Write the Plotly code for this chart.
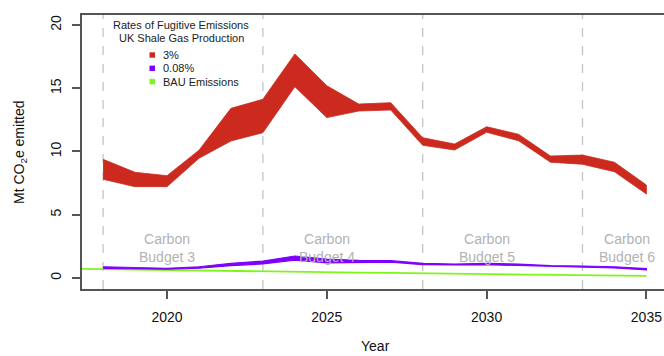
import plotly.graph_objects as go

# Projection years
years = list(range(2018, 2036))

# 3% fugitive emission rate: upper / lower envelope (Mt CO2e)
high_upper = [9.38, 8.35, 8.09, 10.1, 13.41, 14.13, 17.71, 15.2, 13.75, 13.86,
              11.09, 10.59, 11.96, 11.36, 9.64, 9.72, 9.15, 7.35]
high_lower = [7.80, 7.22, 7.22, 9.46, 10.83, 11.49, 15.12, 12.68, 13.2, 13.28,
              10.49, 10.12, 11.52, 10.85, 9.15, 8.99, 8.40, 6.64]

# 0.08% fugitive emission rate: upper / lower envelope (Mt CO2e)
low_upper = [0.89, 0.82, 0.77, 0.89, 1.16, 1.34, 1.74, 1.50, 1.40, 1.37,
             1.16, 1.10, 1.16, 1.10, 0.97, 0.95, 0.89, 0.74]
low_lower = [0.76, 0.70, 0.69, 0.77, 0.97, 1.11, 1.42, 1.20, 1.24, 1.26,
             1.05, 1.03, 1.05, 1.00, 0.89, 0.85, 0.79, 0.64]

# Business-as-usual emissions
bau_years = list(range(2017, 2036))
bau = [0.74, 0.70, 0.66, 0.62, 0.58, 0.54, 0.50, 0.48, 0.45, 0.42,
       0.40, 0.37, 0.33, 0.29, 0.27, 0.24, 0.21, 0.19, 0.16]

# Carbon budget periods
budget_starts = [2018, 2023, 2028, 2033]
budget_labels = ["Carbon<br>Budget 3", "Carbon<br>Budget 4",
                 "Carbon<br>Budget 5", "Carbon<br>Budget 6"]
budget_label_x = [2020, 2025, 2030, 2034.4]

y_ticks = [0, 5, 10, 15, 20]
x_ticks = [2020, 2025, 2030, 2035]

legend_title = ["Rates of Fugitive Emissions", "UK Shale Gas Production"]
legend_names = ["3%", "0.08%", "BAU Emissions"]

RED = "#CC2A1E"
PURPLE = "#7F00FF"
GREEN = "#80F51A"
FONT = "Liberation Sans, Arial, Helvetica, sans-serif"

W, H = 664, 356
L, R, T, B = 82, 0, 15, 67
PW, PH = W - L - R, H - T - B


def px_x(px):
    return (px - L) / PW


def px_y(py):
    return (T + PH - py) / PH


def band(xs, up, lo, color, width):
    return go.Scatter(
        x=xs + xs[::-1], y=up + lo[::-1], fill="toself", fillcolor=color,
        mode="lines", line=dict(color=color, width=width),
        hoverinfo="skip", showlegend=False)


fig = go.Figure()
fig.add_trace(go.Scatter(x=bau_years, y=bau, mode="lines",
                         line=dict(color=GREEN, width=1.8), showlegend=False))
fig.add_trace(band(years, low_upper, low_lower, PURPLE, 1.2))
fig.add_trace(band(years, high_upper, high_lower, RED, 0.8))

shapes = []
for yr in budget_starts:
    shapes.append(dict(type="line", xref="x", yref="paper", x0=yr, x1=yr,
                       y0=0, y1=1, layer="below",
                       line=dict(color="#C4C4C4", width=1.3, dash="dash")))

annotations = []
for lx, txt in zip(budget_label_x, budget_labels):
    annotations.append(dict(x=lx, y=2.4, xref="x", yref="y", text=txt,
                            showarrow=False, align="center",
                            font=dict(family=FONT, size=14, color="#B2B2B2")))

# Legend block
for i, line in enumerate(legend_title):
    annotations.append(dict(x=px_x(181), y=px_y(25 + 13.3 * i), xref="paper",
                            yref="paper", text=line, showarrow=False,
                            xanchor="center", yanchor="middle",
                            font=dict(family=FONT, size=11, color="#222")))
for i, (name, col) in enumerate(zip(legend_names, [RED, PURPLE, GREEN])):
    cy = 55 + 13.3 * i
    shapes.append(dict(type="rect", xref="paper", yref="paper",
                       x0=px_x(149.5), x1=px_x(155), y0=px_y(cy - 2.7),
                       y1=px_y(cy + 2.7), fillcolor=col, line=dict(width=0)))
    annotations.append(dict(x=px_x(161), y=px_y(cy), xref="paper",
                            yref="paper", text=name, showarrow=False,
                            xanchor="left", yanchor="middle",
                            font=dict(family=FONT, size=11, color="#222")))

# Axis titles
annotations.append(dict(x=px_x(375), y=px_y(346), xref="paper", yref="paper",
                        text="Year", showarrow=False, xanchor="center",
                        yanchor="middle",
                        font=dict(family=FONT, size=14, color="#111")))
annotations.append(dict(x=px_x(20), y=0.5, xref="paper", yref="paper",
                        text="Mt CO<sub>2</sub>e emitted", showarrow=False,
                        textangle=-90, xanchor="center", yanchor="middle",
                        font=dict(family=FONT, size=14, color="#111")))

x0 = 2017.34
x1 = x0 + PW / 31.96

fig.update_layout(
    width=W, height=H,
    margin=dict(l=L, r=R, t=T, b=B, pad=0),
    paper_bgcolor="white", plot_bgcolor="white",
    font=dict(family=FONT, size=14, color="#111"),
    shapes=shapes, annotations=annotations, showlegend=False,
    xaxis=dict(range=[x0, x1], tickvals=x_ticks, ticks="outside", ticklen=8,
               tickwidth=1.5, tickcolor="#555", showline=True, linecolor="#555",
               linewidth=1.8, mirror=True, showgrid=False, zeroline=False,
               ticklabelstandoff=6, tickfont=dict(size=14, color="#111")),
    yaxis=dict(range=[-0.87, 20.79], tickvals=y_ticks, ticks="outside",
               ticklen=8, tickwidth=1.5, tickcolor="#555", showline=True,
               linecolor="#555", linewidth=1.8, showgrid=False, zeroline=False,
               tickangle=-90, ticklabelstandoff=6,
               tickfont=dict(size=14, color="#111")),
)

fig.write_html("out.html")
